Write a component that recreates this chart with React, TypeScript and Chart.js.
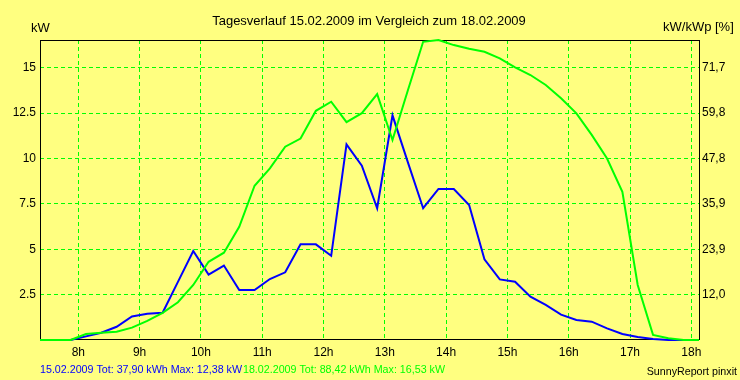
import React, { useEffect, useRef } from "react";
import { Chart, registerables } from "chart.js";

Chart.register(...registerables);

const TITLE = "Tagesverlauf 15.02.2009 im Vergleich zum 18.02.2009";
const LEFT_UNIT = "kW";
const RIGHT_UNIT = "kW/kWp [%]";
const LEGEND_15 = "15.02.2009 Tot: 37,90 kWh Max: 12,38 kW";
const LEGEND_18 = "18.02.2009 Tot: 88,42 kWh Max: 16,53 kW";
const FOOTER = "SunnyReport pinxit";

// time of each 15-minute sample, in hours
const times = [
  7.375, 7.625, 7.875, 8.125, 8.375, 8.625, 8.875, 9.125, 9.375, 9.625, 9.875,
  10.125, 10.375, 10.625, 10.875, 11.125, 11.375, 11.625, 11.875, 12.125, 12.375,
  12.625, 12.875, 13.125, 13.375, 13.625, 13.875, 14.125, 14.375, 14.625, 14.875,
  15.125, 15.375, 15.625, 15.875, 16.125, 16.375, 16.625, 16.875, 17.125, 17.375,
  17.625, 17.875, 18.125,
];

// 15.02.2009 (kW)
const kw15 = [
  0, 0, 0, 0.2, 0.4, 0.73, 1.3, 1.45, 1.5, 3.2, 4.9,
  3.6, 4.1, 2.75, 2.75, 3.36, 3.73, 5.27, 5.27, 4.64, 10.78,
  9.6, 7.26, 12.38, 9.8, 7.26, 8.32, 8.32, 7.44, 4.45, 3.34,
  3.21, 2.39, 1.93, 1.4, 1.1, 1.01, 0.64, 0.33, 0.17, 0.05,
  0, 0, 0,
];

// 18.02.2009 (kW)
const kw18 = [
  0, 0, 0, 0.33, 0.4, 0.46, 0.68, 1.05, 1.5, 2.08, 3.03,
  4.31, 4.81, 6.24, 8.5, 9.46, 10.65, 11.1, 12.63, 13.13, 12.0,
  12.5, 13.55, 11.02, 13.75, 16.43, 16.53, 16.25, 16.05, 15.88, 15.52,
  15.02, 14.6, 14.05, 13.32, 12.49, 11.3, 10.0, 8.17, 3.03, 0.28,
  0.1, 0, 0,
];

const hourTicks = [8, 9, 10, 11, 12, 13, 14, 15, 16, 17, 18];
const kwTicks = [2.5, 5, 7.5, 10, 12.5, 15];
const X_MIN = 7.375;
const X_MAX = 18.125;
const Y_MAX = 16.53;
const PCT_PER_KW = 4.783;

const BG = "#ffff80";
const GREEN = "#00ff00";
const BLUE = "#0000ff";
const FONT = '"Liberation Sans", Arial, sans-serif';

export default function App() {
  const ref = useRef<HTMLCanvasElement | null>(null);

  useEffect(() => {
    const canvas = ref.current;
    if (!canvas) return;

    const decor = {
      id: "decor",
      beforeDraw(chart: any) {
        const c = chart.ctx;
        c.save();
        c.fillStyle = BG;
        c.fillRect(0, 0, chart.width, chart.height);
        c.restore();
      },
      beforeDatasetsDraw(chart: any) {
        const { ctx: c, chartArea: a } = chart;
        c.save();
        c.strokeStyle = "#000";
        c.lineWidth = 1;
        c.setLineDash([]);
        c.strokeRect(a.left + 0.5, a.top + 0.5, a.right - a.left, a.bottom - a.top - 1);
        c.restore();
      },
      afterDraw(chart: any) {
        const c = chart.ctx;
        c.save();
        c.fillStyle = "#000";
        c.textBaseline = "alphabetic";
        c.font = `13px ${FONT}`;
        c.textAlign = "center";
        c.fillText(TITLE, 369, 25);
        c.textAlign = "left";
        c.fillText(LEFT_UNIT, 31, 32);
        c.fillText(RIGHT_UNIT, 663, 31);
        c.font = `10.7px ${FONT}`;
        c.fillStyle = BLUE;
        c.fillText(LEGEND_15, 40, 373);
        const w = c.measureText(LEGEND_15).width;
        c.fillStyle = GREEN;
        c.fillText(LEGEND_18, 40 + w + 1, 373);
        c.fillStyle = "#000";
        c.textAlign = "right";
        c.fillText(FOOTER, 737, 375);
        c.restore();
      },
    };

    const gridOpts = { color: GREEN, lineWidth: 1, drawTicks: false };
    const borderOpts = { display: false, dash: [4, 3] };

    const chart = new Chart(canvas, {
      type: "line",
      data: {
        datasets: [
          {
            label: "15.02.2009",
            data: times.map((t, i) => ({ x: t, y: kw15[i] })),
            borderColor: BLUE,
            backgroundColor: BLUE,
            borderWidth: 2,
            pointRadius: 0,
            tension: 0,
            fill: false,
            clip: false,
            yAxisID: "y",
            order: 1,
          },
          {
            label: "18.02.2009",
            data: times.map((t, i) => ({ x: t, y: kw18[i] })),
            borderColor: GREEN,
            backgroundColor: GREEN,
            borderWidth: 2,
            pointRadius: 0,
            tension: 0,
            fill: false,
            clip: false,
            yAxisID: "y",
            order: 0,
          },
        ],
      },
      options: {
        animation: false,
        responsive: false,
        devicePixelRatio: 1,
        layout: { padding: { top: 40, left: 0, right: 0, bottom: 0 } },
        plugins: {
          legend: { display: false },
          title: { display: false },
          tooltip: { enabled: false },
        },
        scales: {
          x: {
            type: "linear",
            min: X_MIN,
            max: X_MAX,
            afterBuildTicks: (s: any) => {
              s.ticks = hourTicks.map((v) => ({ value: v }));
            },
            afterFit: (s: any) => {
              s.height = 40;
            },
            grid: gridOpts,
            border: borderOpts,
            ticks: {
              color: "#000",
              font: { family: FONT, size: 12 },
              padding: 5,
              maxRotation: 0,
              autoSkip: false,
              callback: (v: any) => `${v}h`,
            },
          },
          y: {
            position: "left",
            min: 0,
            max: Y_MAX,
            afterBuildTicks: (s: any) => {
              s.ticks = kwTicks.map((v) => ({ value: v }));
            },
            afterFit: (s: any) => {
              s.width = 40;
            },
            grid: gridOpts,
            border: borderOpts,
            ticks: {
              color: "#000",
              font: { family: FONT, size: 12 },
              padding: 4,
              callback: (v: any) => String(v),
            },
          },
          y2: {
            position: "right",
            min: 0,
            max: Y_MAX,
            afterBuildTicks: (s: any) => {
              s.ticks = kwTicks.map((v) => ({ value: v }));
            },
            afterFit: (s: any) => {
              s.width = 41;
            },
            grid: { display: false, drawTicks: false },
            border: { display: false },
            ticks: {
              color: "#000",
              font: { family: FONT, size: 12 },
              padding: 3,
              callback: (v: any) => (Number(v) * PCT_PER_KW).toFixed(1).replace(".", ","),
            },
          },
        },
      },
      plugins: [decor],
    } as any);

    return () => chart.destroy();
  }, []);

  return (
    <div style={{ position: "absolute", left: 0, top: 0, width: 740, height: 380, background: BG }}>
      <canvas ref={ref} width={740} height={380} style={{ display: "block", width: 740, height: 380 }} />
    </div>
  );
}
